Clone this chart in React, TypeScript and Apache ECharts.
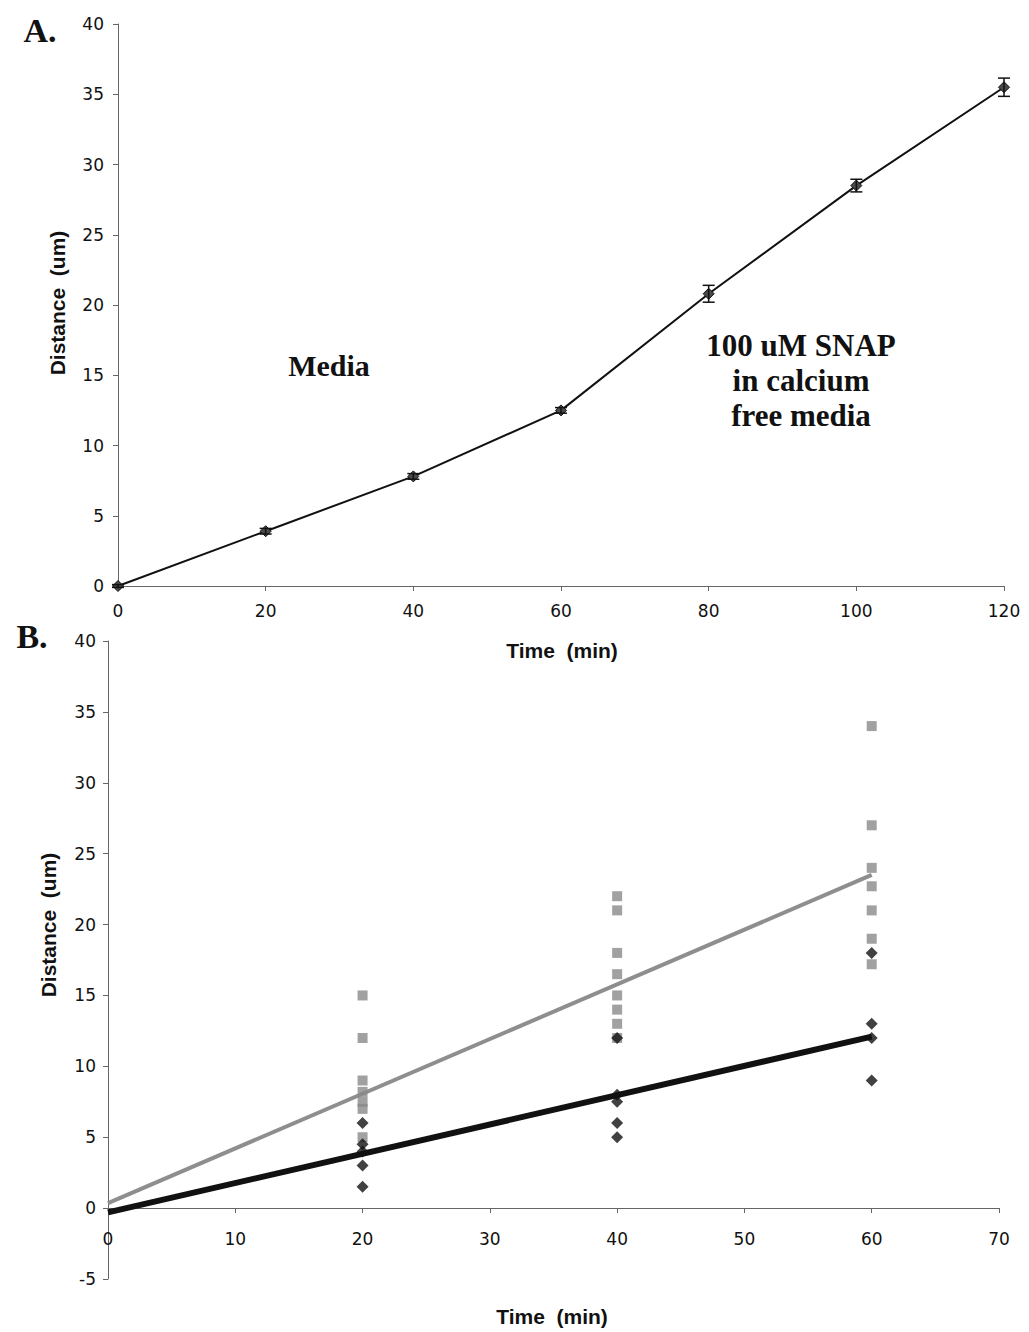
import React, { useEffect, useRef } from "react";
import * as echarts from "echarts";

// Panel A: mean migration distance over time
const timesA = [0, 20, 40, 60, 80, 100, 120];
const distA = [0, 3.9, 7.8, 12.5, 20.8, 28.5, 35.5];
const errA = [0.1, 0.2, 0.2, 0.2, 0.6, 0.45, 0.65];

// Panel B: individual measurements per time point
const timesB = [20, 40, 60];
const media20 = [6, 4.5, 4, 3, 1.5];
const media40 = [12, 8, 7.5, 6, 5];
const media60 = [18, 13, 12, 9];
const snap20 = [15, 12, 9, 8.2, 7.5, 7, 5];
const snap40 = [22, 21, 18, 16.5, 15, 14, 13, 12];
const snap60 = [34, 27, 24, 22.7, 21, 19, 17.2];

// Linear trend lines (start and end values)
const trendTimes = [0, 60];
const mediaTrend = [-0.3, 12.1];
const snapTrend = [0.35, 23.5];

const SANS = "'Liberation Sans', Arial, sans-serif";
const TICK_FONT = "'DejaVu Sans', sans-serif";
const SERIF = "'Liberation Serif', 'Times New Roman', serif";

function pairs(t: number, vals: number[]) {
  return vals.map((v) => [t, v]);
}

export default function App() {
  const ref = useRef<HTMLDivElement>(null);

  useEffect(() => {
    if (!ref.current) return;
    const chart = echarts.init(ref.current, null, { renderer: "svg" });

    const mediaPts = [
      ...pairs(timesB[0], media20),
      ...pairs(timesB[1], media40),
      ...pairs(timesB[2], media60),
    ];
    const snapPts = [
      ...pairs(timesB[0], snap20),
      ...pairs(timesB[1], snap40),
      ...pairs(timesB[2], snap60),
    ];

    const axisLine = { show: true, onZero: false, lineStyle: { color: "#666", width: 1 } };
    const axisTick = { show: true, inside: false, length: 5, lineStyle: { color: "#666" } };
    const tickLabel = { color: "#111", fontSize: 17, fontFamily: TICK_FONT };

    chart.setOption({
      animation: false,
      backgroundColor: "#fff",
      grid: [
        { left: 118, right: 25, top: 24, height: 562 },
        { left: 108, right: 30, top: 641, height: 638 },
        // carries panel B's time axis along the zero line
        { left: 108, right: 30, top: 641, height: 567 },
      ],
      xAxis: [
        {
          gridIndex: 0,
          type: "value",
          min: 0,
          max: 120,
          interval: 20,
          axisLine,
          axisTick,
          axisLabel: { ...tickLabel, margin: 16 },
          splitLine: { show: false },
        },
        {
          gridIndex: 1,
          type: "value",
          min: 0,
          max: 70,
          interval: 10,
          show: false,
        },
        {
          gridIndex: 2,
          type: "value",
          min: 0,
          max: 70,
          interval: 10,
          axisLine,
          axisTick,
          axisLabel: { ...tickLabel, margin: 22 },
          splitLine: { show: false },
        },
      ],
      yAxis: [
        {
          gridIndex: 0,
          type: "value",
          min: 0,
          max: 40,
          interval: 5,
          axisLine,
          axisTick,
          axisLabel: { ...tickLabel, margin: 14 },
          splitLine: { show: false },
        },
        {
          gridIndex: 1,
          type: "value",
          min: -5,
          max: 40,
          interval: 5,
          axisLine,
          axisTick,
          axisLabel: { ...tickLabel, margin: 12 },
          splitLine: { show: false },
        },
        {
          gridIndex: 2,
          type: "value",
          min: 0,
          max: 40,
          show: false,
        },
      ],
      series: [
        {
          type: "line",
          xAxisIndex: 0,
          yAxisIndex: 0,
          data: timesA.map((t, i) => [t, distA[i]]),
          symbol: "diamond",
          symbolSize: 11,
          lineStyle: { color: "#111", width: 2 },
          itemStyle: { color: "#4a4a4a", borderColor: "#111", borderWidth: 1 },
          z: 3,
        },
        {
          type: "custom",
          xAxisIndex: 0,
          yAxisIndex: 0,
          data: timesA.map((t, i) => [t, distA[i], errA[i]]),
          encode: { x: 0, y: 1 },
          z: 4,
          renderItem: (params: any, api: any) => {
            const x = api.value(0);
            const y = api.value(1);
            const e = api.value(2);
            const top = api.coord([x, y + e]);
            const bot = api.coord([x, y - e]);
            const hw = 6;
            const st = { stroke: "#111", lineWidth: 1.5 };
            return {
              type: "group",
              children: [
                { type: "line", shape: { x1: top[0], y1: top[1], x2: bot[0], y2: bot[1] }, style: st },
                { type: "line", shape: { x1: top[0] - hw, y1: top[1], x2: top[0] + hw, y2: top[1] }, style: st },
                { type: "line", shape: { x1: bot[0] - hw, y1: bot[1], x2: bot[0] + hw, y2: bot[1] }, style: st },
              ],
            };
          },
        },
        {
          type: "line",
          xAxisIndex: 1,
          yAxisIndex: 1,
          data: trendTimes.map((t, i) => [t, snapTrend[i]]),
          symbol: "none",
          lineStyle: { color: "#8e8e8e", width: 4 },
          z: 2,
        },
        {
          type: "line",
          xAxisIndex: 1,
          yAxisIndex: 1,
          data: trendTimes.map((t, i) => [t, mediaTrend[i]]),
          symbol: "none",
          lineStyle: { color: "#111", width: 6 },
          z: 2,
        },
        {
          type: "scatter",
          xAxisIndex: 1,
          yAxisIndex: 1,
          data: snapPts,
          symbol: "rect",
          symbolSize: 10,
          itemStyle: { color: "#8a8a8a" },
          z: 3,
        },
        {
          type: "scatter",
          xAxisIndex: 1,
          yAxisIndex: 1,
          data: mediaPts,
          symbol: "diamond",
          symbolSize: 12,
          itemStyle: { color: "#111" },
          z: 4,
        },
      ],
      graphic: [
        {
          type: "text",
          x: 40,
          y: 30,
          style: { text: "A.", font: `bold 34px ${SERIF}`, fill: "#111", align: "center", verticalAlign: "middle" },
        },
        {
          type: "text",
          x: 32,
          y: 636,
          style: { text: "B.", font: `bold 34px ${SERIF}`, fill: "#111", align: "center", verticalAlign: "middle" },
        },
        {
          type: "text",
          x: 329,
          y: 365,
          style: { text: "Media", font: `bold 30px ${SERIF}`, fill: "#111", align: "center", verticalAlign: "middle" },
        },
        {
          type: "text",
          x: 801,
          y: 380,
          style: {
            text: "100 uM SNAP\nin calcium\nfree media",
            font: `bold 31px ${SERIF}`,
            lineHeight: 35,
            fill: "#111",
            align: "center",
            verticalAlign: "middle",
          },
        },
        {
          type: "text",
          x: 57,
          y: 303,
          rotation: Math.PI / 2,
          style: { text: "Distance  (um)", font: `bold 21px ${SANS}`, fill: "#111", align: "center", verticalAlign: "middle" },
        },
        {
          type: "text",
          x: 562,
          y: 650,
          style: { text: "Time  (min)", font: `bold 21px ${SANS}`, fill: "#111", align: "center", verticalAlign: "middle" },
        },
        {
          type: "text",
          x: 48,
          y: 925,
          rotation: Math.PI / 2,
          style: { text: "Distance  (um)", font: `bold 21px ${SANS}`, fill: "#111", align: "center", verticalAlign: "middle" },
        },
        {
          type: "text",
          x: 552,
          y: 1316,
          style: { text: "Time  (min)", font: `bold 21px ${SANS}`, fill: "#111", align: "center", verticalAlign: "middle" },
        },
      ],
    });

    return () => chart.dispose();
  }, []);

  return (
    <div
      ref={ref}
      style={{ position: "absolute", left: 0, top: 0, width: 1029, height: 1332, background: "#fff" }}
    />
  );
}
